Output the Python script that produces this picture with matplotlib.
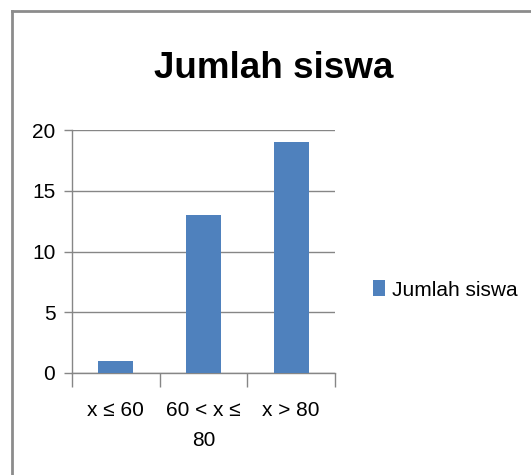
import matplotlib
matplotlib.use("Agg")
import matplotlib.pyplot as plt
from matplotlib.lines import Line2D

plt.rcParams['font.family'] = ['Liberation Sans', 'DejaVu Sans']

categories = ["x ≤ 60", "60 < x ≤\n80", "x > 80"]
values = [1, 13, 19]
series_name = "Jumlah siswa"

bar_color = "#4F81BD"
grid_color = "#868686"

fig = plt.figure(figsize=(5.31, 4.75), dpi=100)
ax = fig.add_axes([72 / 531, 1 - 373 / 475, (335 - 72) / 531, (373 - 130) / 475])

x = range(len(categories))
ax.bar(x, values, width=0.4, color=bar_color, label=series_name, zorder=3)

ax.set_xlim(-0.5, len(categories) - 0.5)
ax.set_ylim(0, 20)
ax.set_yticks([0, 5, 10, 15, 20])
ax.yaxis.grid(True, color=grid_color, linewidth=1, zorder=0)

ax.set_xticks(list(x))
ax.set_xticklabels(categories, linespacing=1.75)
ax.set_xticks([i - 0.5 for i in range(len(categories) + 1)], minor=True)
ax.tick_params(axis='x', which='major', length=0, pad=20, labelsize=15, colors='#000000')
ax.tick_params(axis='x', which='minor', length=10, color=grid_color, width=1, direction='out')
ax.tick_params(axis='y', length=6, color=grid_color, width=1, pad=6, labelsize=15)

for side in ['top', 'right']:
    ax.spines[side].set_visible(False)
for side in ['left', 'bottom']:
    ax.spines[side].set_color(grid_color)
    ax.spines[side].set_linewidth(1)

fig.text(274 / 531, 1 - 68 / 475, "Jumlah siswa", ha='center', va='center',
         fontsize=26.5, fontweight='bold')

ax.legend(loc='center left', bbox_to_anchor=(354 / 531, 1 - 290 / 475),
          bbox_transform=fig.transFigure, frameon=False, fontsize=15,
          handlelength=0.6, handleheight=0.8, handletextpad=0.3)

# chart border
fig.add_artist(Line2D([12 / 531, 1.0], [1 - 11 / 475, 1 - 11 / 475], color='#8C8C8C', linewidth=2))
fig.add_artist(Line2D([12 / 531, 12 / 531], [0, 1 - 11 / 475], color='#8C8C8C', linewidth=2))

fig.savefig("out.png", dpi=100)
